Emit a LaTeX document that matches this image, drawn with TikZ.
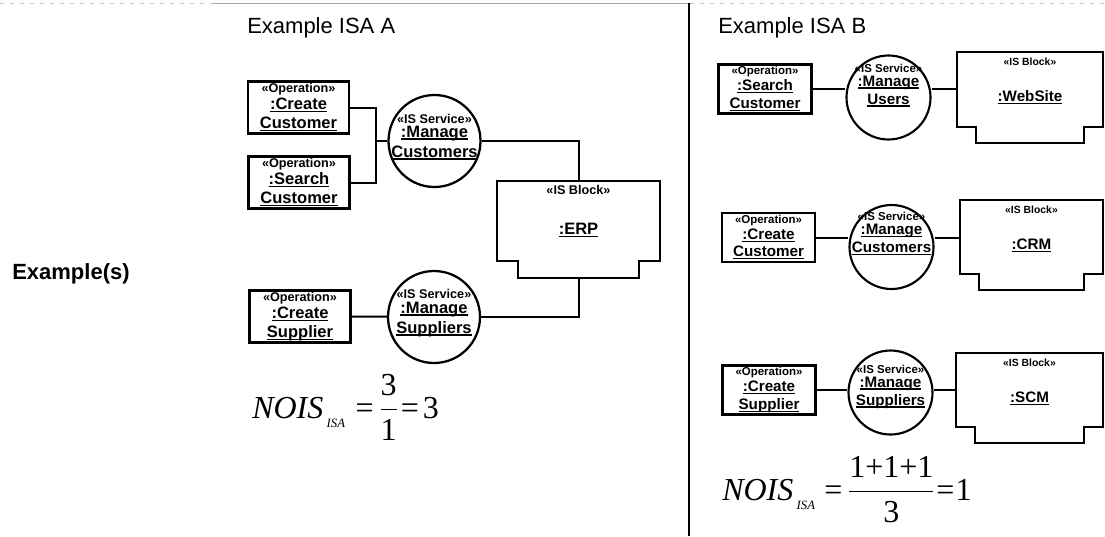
\documentclass[tikz,border=0pt]{standalone}
\usepackage{fontspec}
\usepackage{amsmath}
\setmainfont{Liberation Sans}
\newfontfamily\tms{Liberation Serif}
\usetikzlibrary{calc}
\newlength\pxu \setlength\pxu{0.75pt}
\newcommand\ulx[1]{\setbox0\hbox{#1}\rlap{\rule[-2pt]{\wd0}{0.9pt}}\box0}
\newcommand\noisisa{\textit{NOIS}\kern2.5pt\raisebox{-6.8pt}{\fontsize{9.5}{10}\selectfont\itshape ISA}}
\newcommand\blockoutline[3]{%
  \draw[blkline] (#1.north west) -- (#1.north east) -- ($(#1.south east)+(0,-#3)$)
    -- ($(#1.south east)+(-#2,-#3)$) -- ($(#1.south east)+(-#2,0)$)
    -- ($(#1.south west)+(#2,0)$) -- ($(#1.south west)+(#2,-#3)$)
    -- ($(#1.south west)+(0,-#3)$) -- cycle;}
\newcommand\tlines[8]{%
  \def\tlparse##1/##2/##3\relax{\def\dya{##1}\def\dyb{##2}\def\dyc{##3}}\tlparse#8\relax
  \node[#3] (#1-s) at ($#2+(0,\dya)$) {#5};
  \node[#4] (#1-a) at ($#2+(0,\dyb)$) {\ulx{#6}};
  \node[#4] (#1-b) at ($#2+(0,\dyc)$) {\ulx{#7}};}
\tikzset{
  opA/.style={draw, line width=2pt, inner sep=0pt, minimum width=101\pxu, minimum height=52\pxu},
  opB/.style={draw, line width=1.8pt, inner sep=0pt, minimum width=93\pxu, minimum height=49\pxu},
  svcA/.style={circle, draw, line width=1.7pt, inner sep=0pt, minimum size=92\pxu},
  svcB/.style={circle, draw, line width=1.6pt, inner sep=0pt, minimum size=84\pxu},
  blk/.style={rectangle, inner sep=0pt},
  blkline/.style={draw, line width=1.6pt},
  conn/.style={line width=1.5pt},
  tbase/.style={inner sep=0pt, anchor=base},
  stA/.style={tbase, font=\bfseries\fontsize{9.5}{11}\selectfont},
  mnA/.style={tbase, font=\bfseries\fontsize{12.4}{14}\selectfont},
  stB/.style={tbase, font=\bfseries\fontsize{8.6}{10}\selectfont},
  bstB/.style={tbase, font=\bfseries\fontsize{7.8}{9}\selectfont},
  mnB/.style={tbase, font=\bfseries\fontsize{11.4}{13}\selectfont},
  hdr/.style={inner sep=0pt, anchor=base west, font=\fontsize{16.5}{19}\selectfont},
  fml/.style={inner sep=0pt, anchor=base west, font=\tms\fontsize{24}{28}\selectfont},
  topdots/.style={draw=gray!45, line width=1pt, dash pattern=on 4\pxu off 6\pxu},
  topsolid/.style={draw=gray!70, line width=1pt},
  sepline/.style={draw=black, line width=2pt},
}
\begin{document}
\begin{tikzpicture}[x=0.75pt,y=-0.75pt]
\useasboundingbox (0,0) rectangle (1105,536);
% top rules and separator
\draw[topdots] (0,3.5) -- (1105,3.5);
\draw[topsolid] (213,3.5) -- (689,3.5);
\draw[sepline] (689,3) -- (689,536);
% headers
\node[hdr] (ha) at (247,33) {Example ISA A};
\node[hdr] (hb) at (718,33) {Example ISA B};
\node[hdr, font=\bfseries\fontsize{16.5}{19}\selectfont] (ex) at (12,279) {Example(s)};
% ---------- ISA A ----------
\node[opA] (cc) at (298.5,107.5) {};
\node[opA] (sc) at (299,182.5) {};
\node[opA] (csA) at (300,316.5) {};
\node[svcA] (mcA) at (434.5,141) {};
\node[svcA] (msA) at (434,317) {};
\node[blk, minimum width=163\pxu, minimum height=97\pxu] (erp) at (578.5,229.5) {};
\blockoutline{erp}{21}{17}
\coordinate (jA) at (376,141);
\draw[conn] (cc.east) -| (jA) |- (sc.east);
\draw[conn] (jA) -- (mcA);
\draw[conn] (mcA.east) -| (erp.north);
\draw[conn] (erp.south) |- (msA.east);
\draw[conn] (csA.east) -- (msA);
\tlines{cc}{(cc.north)}{stA}{mnA}{«Operation»}{:Create}{Customer}{12/29/48}
\tlines{sc}{(sc.north)}{stA}{mnA}{«Operation»}{:Search}{Customer}{12/29/48}
\tlines{csA}{(csA.north)}{stA}{mnA}{«Operation»}{:Create}{Supplier}{12/29/48}
\tlines{mcA}{(mcA.center)}{stA}{mnA}{«IS Service»}{:Manage}{Customers}{-18/-4/16}
\tlines{msA}{(msA.center)}{stA}{mnA}{«IS Service»}{:Manage}{Suppliers}{-19/-4/16}
\node[stA] (erp-s) at ($(erp.north)+(0,14)$) {«IS Block»};
\node[mnA] (erp-n) at ($(erp.north)+(0,54)$) {\ulx{:ERP}};
\node[fml] (fa) at (252,418) {\noisisa\kern8pt=\kern4pt$\genfrac{}{}{1.1pt}{0}{\hbox{3}}{\hbox{1}}$\kern2pt=\kern3pt3};
% ---------- ISA B ----------
\node[opB] (sc2) at (765,89) {};
\node[opB] (cc2) at (768.5,237.5) {};
\node[opB] (cs2) at (769,390) {};
\node[svcB] (mu) at (888.5,97.5) {};
\node[svcB] (mc2) at (891.5,247) {};
\node[svcB] (ms2) at (890.5,392.5) {};
\node[blk, minimum width=146\pxu, minimum height=91\pxu] (web) at (1030,97.5) {};
\node[blk, minimum width=143\pxu, minimum height=90\pxu] (crm) at (1031.5,245) {};
\node[blk, minimum width=147\pxu, minimum height=90\pxu] (scm) at (1029.5,398) {};
\blockoutline{web}{19}{16}
\blockoutline{crm}{19}{16}
\blockoutline{scm}{19}{16}
\draw[conn] (sc2.east) -- (sc2.east -| mu.west);
\draw[conn] (sc2.east -| mu.east) -- (sc2.east -| web.west);
\draw[conn] (cc2.east) -- (cc2.east -| mc2.west);
\draw[conn] (cc2.east -| mc2.east) -- (cc2.east -| crm.west);
\draw[conn] (cs2.east) -- (cs2.east -| ms2.west);
\draw[conn] (cs2.east -| ms2.east) -- (cs2.east -| scm.west);
\tlines{sc2}{(sc2.north)}{stB}{mnB}{«Operation»}{:Search}{Customer}{11.5/27.5/45}
\tlines{cc2}{(cc2.north)}{stB}{mnB}{«Operation»}{:Create}{Customer}{11.5/27.5/45}
\tlines{cs2}{(cs2.north)}{stB}{mnB}{«Operation»}{:Create}{Supplier}{11.5/27.5/45}
\tlines{mu}{(sc2.east -| mu.center)}{stB}{mnB}{«IS Service»}{:Manage}{Users}{-17/-3/15}
\tlines{mc2}{(cc2.east -| mc2.center)}{stB}{mnB}{«IS Service»}{:Manage}{Customers}{-17/-3/15}
\tlines{ms2}{(cs2.east -| ms2.center)}{stB}{mnB}{«IS Service»}{:Manage}{Suppliers}{-17/-3/15}
\node[bstB] (web-s) at ($(web.north)+(0,13.5)$) {«IS Block»};
\node[mnB] (web-n) at ($(web.north)+(0,50)$) {\ulx{:WebSite}};
\node[bstB] (crm-s) at ($(crm.north)+(0,13.5)$) {«IS Block»};
\node[mnB] (crm-n) at ($(crm.north)+(0,50)$) {\ulx{:CRM}};
\node[bstB] (scm-s) at ($(scm.north)+(0,13.5)$) {«IS Block»};
\node[mnB] (scm-n) at ($(scm.north)+(0,50)$) {\ulx{:SCM}};
\node[fml] (fb) at (722,500) {\noisisa\kern7pt=\kern4pt$\genfrac{}{}{1.1pt}{0}{\hbox{1+1+1}}{\hbox{3}}$\kern1pt=\kern1pt1};
\end{tikzpicture}
\end{document}
